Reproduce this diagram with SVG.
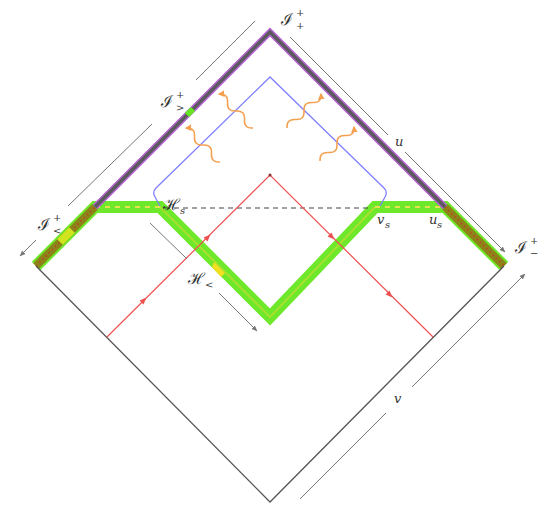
<svg xmlns="http://www.w3.org/2000/svg" xmlns:xlink="http://www.w3.org/1999/xlink" width="555" height="517" viewBox="0 0 555 517">
<style>
.edge{fill:none;stroke:#555;stroke-width:1.3}
.gray{fill:none;stroke:#777;stroke-width:1}
.red{fill:none;stroke:#ee5050;stroke-width:1.2}
.blue{fill:none;stroke:#8080ff;stroke-width:1.3}
.wave{fill:none;stroke:#f5a050;stroke-width:1.5}
.lbl{font-family:"DejaVu Serif","Liberation Serif",serif;fill:#333;font-style:italic}
.scr{font-family:"DejaVu Serif","Liberation Serif",serif;fill:#333;font-size:16px}
.sm{font-size:10px}
</style>
<defs>
<marker id="ga" viewBox="0 0 10 10" refX="9" refY="5" markerWidth="6" markerHeight="6" orient="auto">
<path d="M0,1 L10,5 L0,9 z" fill="#777"/>
</marker>
<marker id="oa" viewBox="0 0 10 10" refX="8" refY="5" markerWidth="4.5" markerHeight="4.5" orient="auto">
<path d="M0,0 L10,5 L0,10 z" fill="#f5a050"/>
</marker>
<path id="rarrow" d="M-3.5,-2.8 L3.5,0 L-3.5,2.8 z" fill="#ee5050"/>
<path id="sq" d="M-24,0 q6,-7 12,0 t12,0 t12,0 t12,0"/>
</defs>

<g id="green-path">
<path d="M36,266 L95,207 L160,207 L270,317 L375,207 L445,207 L504,266" fill="none" stroke="#6ee82a" stroke-width="12" stroke-linejoin="miter"/>
<path d="M160,207 L270,317 L375,207" fill="none" stroke="#a8e030" stroke-width="2"/>
<path d="M95,207 L160,207 M375,207 L445,207" fill="none" stroke="#e8e050" stroke-width="2" stroke-dasharray="5,5"/>
</g>

<g id="olive-segments">
<path d="M36,266 L95,207 M445,207 L504,266" fill="none" stroke="#8c8418" stroke-width="8"/>
<path d="M36,266 L95,207 M445,207 L504,266" fill="none" stroke="#c04020" stroke-width="1.5" stroke-dasharray="1.5,3"/>
<path d="M60,242 L72,230" fill="none" stroke="#d8f020" stroke-width="8" opacity="0.9"/>
</g>

<g id="horizon-patch">
<path d="M214,262 L225,273 L221,277 L212,267 z" fill="#f2e020"/>
</g>

<g id="boundary">
<path class="edge" d="M36,266 L270,502 L504,266"/>
<path d="M95,207 L270,32 L445,207" fill="none" stroke="#b060d0" stroke-width="6.5"/>
<path d="M95,207 L270,32 L445,207" fill="none" stroke="#5a5a5a" stroke-width="3.2"/>
<path d="M187,115 L193,109" fill="none" stroke="#66e622" stroke-width="6"/>
</g>

<g id="dashed-line">
<path d="M165,208 L372,208" fill="none" stroke="#444" stroke-width="1.2" stroke-dasharray="5,4"/>
</g>

<g id="blue-line">
<path class="blue" d="M160,206 L155,197 Q152,192 156,188 L270,77 L384,188 Q388,192 385,197 L380,206"/>
</g>

<g id="red-rays">
<path class="red" d="M107,337 L270,175 L433,337"/>
<circle cx="270" cy="175" r="1.5" fill="#883030"/>
<use xlink:href="#rarrow" href="#rarrow" transform="translate(208,237) rotate(-45)"/>
<use xlink:href="#rarrow" href="#rarrow" transform="translate(144,300) rotate(-45)"/>
<use xlink:href="#rarrow" href="#rarrow" transform="translate(332,237) rotate(45)"/>
<use xlink:href="#rarrow" href="#rarrow" transform="translate(390,295) rotate(45)"/>
</g>

<g id="radiation">
<use xlink:href="#sq" href="#sq" class="wave" marker-end="url(#oa)" transform="translate(236,111) rotate(-135)"/>
<use xlink:href="#sq" href="#sq" class="wave" marker-end="url(#oa)" transform="translate(203,145) rotate(-135)"/>
<use xlink:href="#sq" href="#sq" class="wave" marker-end="url(#oa)" transform="translate(304,111) rotate(-45)"/>
<use xlink:href="#sq" href="#sq" class="wave" marker-end="url(#oa)" transform="translate(337,144) rotate(-45)"/>
</g>

<g id="connectors">
<path class="gray" d="M255,21 L196,80"/>
<path class="gray" d="M152,124 L68,206"/>
<path class="gray" d="M36,240 L20,256" marker-end="url(#ga)"/>
<path class="gray" d="M290,37 L388,135"/>
<path class="gray" d="M405,152 L505,252" marker-end="url(#ga)"/>
<path class="gray" d="M300,499 L386,413"/>
<path class="gray" d="M412,387 L525,274" marker-end="url(#ga)"/>
<path class="gray" d="M150,223 L187,259"/>
<path class="gray" d="M219,293 L257,331" marker-end="url(#ga)"/>
</g>

<g id="labels">
<text class="scr" x="281" y="25">ℐ</text><text class="lbl sm" x="296" y="16">+</text><text class="lbl sm" x="296" y="29">+</text>
<text class="scr" x="161" y="107">ℐ</text><text class="lbl sm" x="176" y="98">+</text><text class="lbl sm" x="176" y="111">&gt;</text>
<text class="scr" x="38" y="230">ℐ</text><text class="lbl sm" x="53" y="221">+</text><text class="lbl sm" x="53" y="234">&lt;</text>
<text class="scr" x="515" y="253">ℐ</text><text class="lbl sm" x="530" y="244">+</text><text class="lbl sm" x="530" y="257">−</text>
<text class="scr" x="163" y="210">ℋ</text><text class="lbl sm" x="180" y="214">s</text>
<text class="scr" x="188" y="284">ℋ</text><text class="lbl sm" x="205" y="288">&lt;</text>
<text class="lbl" font-size="13" x="377" y="224">v</text><text class="lbl sm" x="385" y="228">s</text>
<text class="lbl" font-size="13" x="429" y="224">u</text><text class="lbl sm" x="437" y="228">s</text>
<text class="lbl" font-size="13" x="395" y="146">u</text>
<text class="lbl" font-size="13" x="394" y="403">v</text>
</g>
</svg>
